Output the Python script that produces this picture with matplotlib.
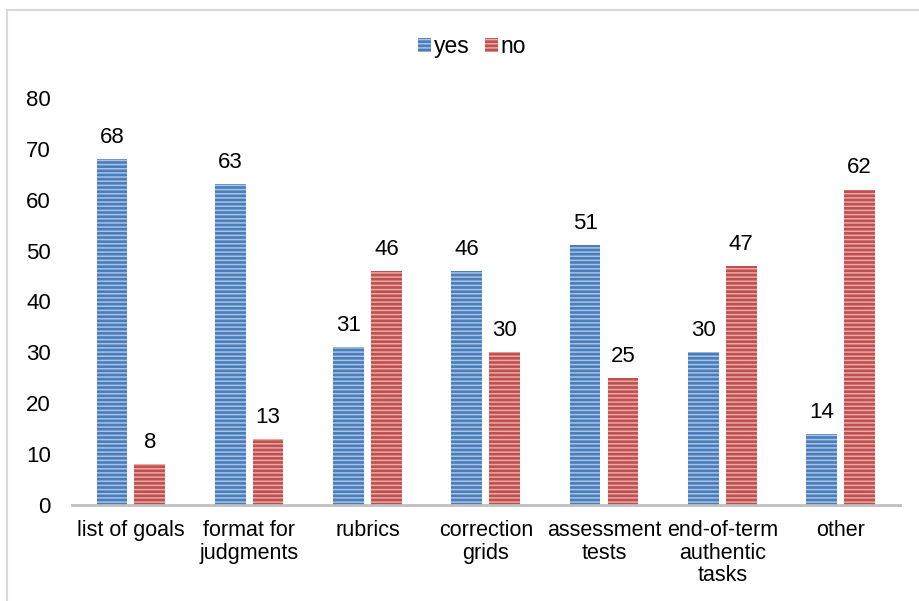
import numpy as np
import matplotlib
matplotlib.use("Agg")
import matplotlib.pyplot as plt
from matplotlib.patches import Rectangle, Patch

plt.rcParams["font.family"] = ["Liberation Sans", "DejaVu Sans"]
plt.rcParams["hatch.linewidth"] = 1.1

# ── data ─────────────────────────────────────────────────────────────
categories = ["list of goals", "format for\njudgments", "rubrics",
              "correction\ngrids", "assessment\ntests",
              "end-of-term\nauthentic\ntasks", "other"]
yes_vals = [68, 63, 31, 46, 51, 30, 14]
no_vals = [8, 13, 46, 30, 25, 47, 62]

BLUE = "#4A7EBB"
BLUE_H = "#A9C3E6"
RED = "#C0504D"
RED_H = "#E8A9A7"
AXIS = "#BFBFBF"

fig = plt.figure(figsize=(9.2, 6.01), dpi=100)
ax = fig.add_axes([0.078, 0.160, 0.900, 0.677])

x = np.arange(len(categories))
w = 0.26
off = 0.16

b1 = ax.bar(x - off, yes_vals, w, color=BLUE, edgecolor=BLUE_H, linewidth=0,
            hatch="----", label="yes")
b2 = ax.bar(x + off, no_vals, w, color=RED, edgecolor=RED_H, linewidth=0,
            hatch="----", label="no")

for bars, vals in [(b1, yes_vals), (b2, no_vals)]:
    for rect, v in zip(bars, vals):
        ax.annotate(str(v), xy=(rect.get_x() + rect.get_width() / 2, v),
                    xytext=(0, 8), textcoords="offset points",
                    ha="center", va="bottom", fontsize=16, color="black")

ax.set_xlim(-0.5, len(categories) - 0.5)
ax.set_ylim(0, 80)
ax.set_yticks(range(0, 81, 10))
ax.set_xticks(x)
ax.set_xticklabels(categories, fontsize=15.5, linespacing=1.1, va="top")
ax.tick_params(axis="y", length=0, pad=15, labelsize=16)
ax.tick_params(axis="x", length=0, pad=11)

for s in ["top", "right", "left"]:
    ax.spines[s].set_visible(False)
ax.spines["bottom"].set_color(AXIS)
ax.spines["bottom"].set_linewidth(2)

handles = [Patch(facecolor=BLUE, edgecolor=BLUE_H, hatch="----", linewidth=0, label="yes"),
           Patch(facecolor=RED, edgecolor=RED_H, hatch="----", linewidth=0, label="no")]
fig.legend(handles=handles, loc="center", bbox_to_anchor=(0.513, 0.922), ncol=2,
           frameon=False, fontsize=16.5, handlelength=0.57, handleheight=0.57,
           handletextpad=0.13, columnspacing=0.65)

# outer chart border (cropped image)
fig.patches.append(Rectangle((7 / 920, -0.1), 1.2, 1.1 - 10 / 601,
                             transform=fig.transFigure, fill=False,
                             edgecolor="#D9D9D9", linewidth=1.5))

fig.savefig("out.png", dpi=100)
